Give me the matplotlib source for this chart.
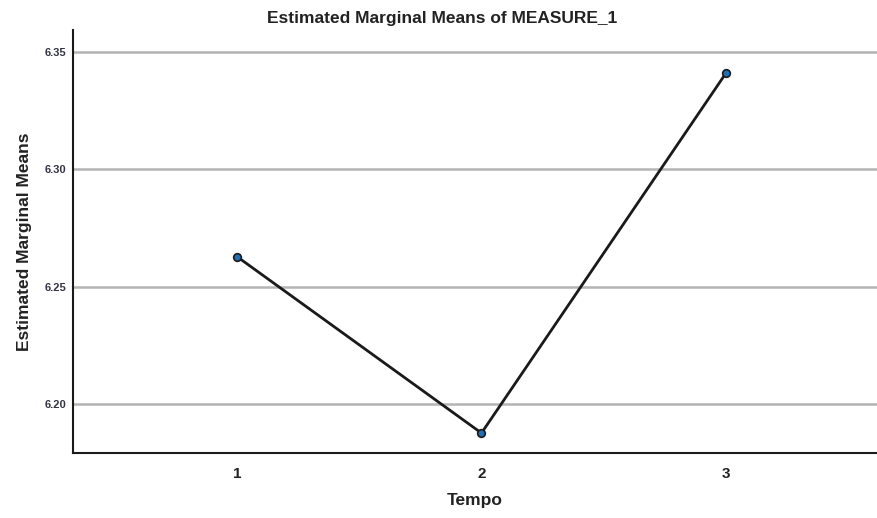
import matplotlib
matplotlib.use("Agg")
import matplotlib.pyplot as plt

# Estimated marginal means by time point
tempo = [1, 2, 3]
means = [6.2628, 6.1876, 6.3410]
y_ticks = [6.20, 6.25, 6.30, 6.35]

plt.rcParams["font.family"] = ["Liberation Sans", "DejaVu Sans"]

fig = plt.figure(figsize=(8.77, 5.18), dpi=100)
ax = fig.add_axes([73 / 877, 1 - 453 / 518, 1 - 73 / 877, (453 - 30) / 518])

ax.set_xlim(0.329, 3.618)
ax.set_ylim(6.1791, 6.3594)

for yt in y_ticks:
    ax.axhline(yt, color="#b4b4b4", lw=1.8, zorder=1)

ax.plot(tempo, means, color="#1a1a1a", lw=2.0, zorder=3,
        marker="o", markersize=5.5, markerfacecolor="#1f6fb4",
        markeredgecolor="#1a1a1a", markeredgewidth=1.2)

ax.set_xticks(tempo)
ax.set_xticklabels([str(t) for t in tempo], fontsize=11, fontweight="bold", color="#222222")
ax.set_yticks(y_ticks)
ax.set_yticklabels([f"{v:.2f}" for v in y_ticks], fontsize=8, fontweight="bold", color="#333344")
ax.tick_params(axis="both", length=0)
ax.tick_params(axis="x", pad=10)
ax.tick_params(axis="y", pad=5)

for s in ("top", "right"):
    ax.spines[s].set_visible(False)
for s in ("left", "bottom"):
    ax.spines[s].set_linewidth(1.5)
    ax.spines[s].set_color("#1a1a1a")

ax.set_xlabel("Tempo", fontsize=12.5, fontweight="bold", color="#222222", labelpad=9)
ax.set_ylabel("Estimated Marginal Means", fontsize=12.5, fontweight="bold", color="#222222", labelpad=9)
fig.text(0.5 + 4 / 877, 1 - 18 / 518, "Estimated Marginal Means of MEASURE_1",
         ha="center", va="center", fontsize=12.5, fontweight="bold", color="#222222")

fig.savefig("out.png", dpi=100)
